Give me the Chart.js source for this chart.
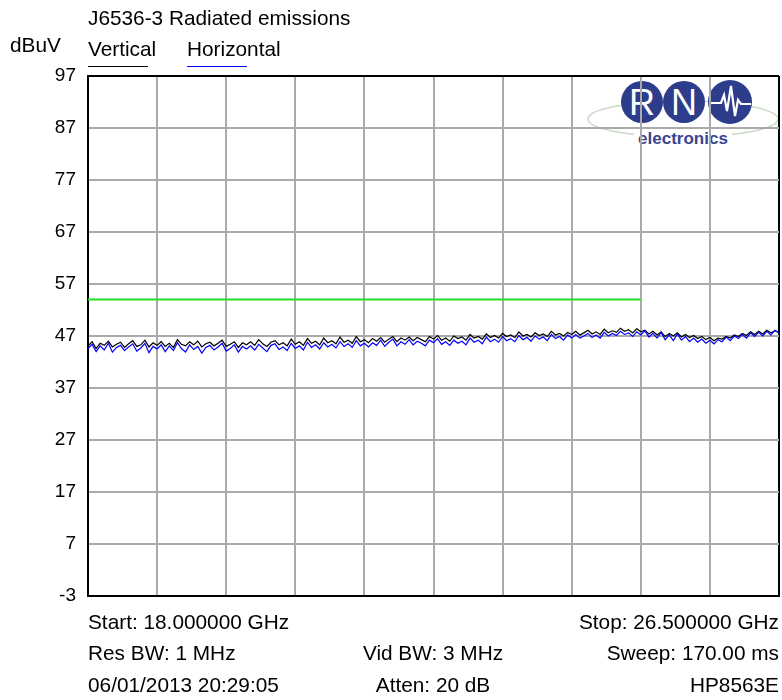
<!DOCTYPE html>
<html>
<head>
<meta charset="utf-8">
<script src="https://cdn.jsdelivr.net/npm/chart.js@4.4.1/dist/chart.umd.min.js"></script>
<style>
  html, body { margin: 0; padding: 0; background: #fff; }
  #wrap { position: relative; width: 782px; height: 700px; font-family: "Liberation Sans", Arial, sans-serif; color: #000; }
  #wrap canvas { position: absolute; left: 0; top: 0; z-index: 2; }
  #logo { position: absolute; left: 0; top: 0; z-index: 1; }
  .t { position: absolute; font-size: 20.8px; line-height: 20px; white-space: nowrap; z-index: 3; }
  .ul { position: absolute; height: 1px; z-index: 3; }
</style>
</head>
<body>
<div id="wrap">
  <svg id="logo" width="782" height="700">
    <ellipse cx="683" cy="119" rx="95" ry="18" fill="none" stroke="#c9d9c6" stroke-width="1.5"/>
    <circle cx="642" cy="102" r="21" fill="#2e3c8c"/>
    <circle cx="684" cy="102" r="21" fill="#2e3c8c"/>
    <circle cx="730" cy="102" r="22" fill="#2e3c8c"/>
    <text x="642" y="115" text-anchor="middle" font-family="Liberation Sans, Arial" font-size="36" fill="#fff">R</text>
    <text x="684" y="115" text-anchor="middle" font-family="Liberation Sans, Arial" font-size="36" fill="#fff">N</text>
    <polyline points="710,103 721,103 724,95 727,111 731,86 735,116 738,100 741,104 751,104" fill="none" stroke="#fff" stroke-width="2.2"/>
    <rect x="634" y="128" width="98" height="18" fill="#fff"/>
    <text x="683" y="144" text-anchor="middle" font-family="Liberation Sans, Arial" font-weight="bold" font-size="17" fill="#3a4590">electronics</text>
  </svg>
  <canvas id="emiChart" width="782" height="700"></canvas>

  <div class="t" style="left:88px; top:8px;">J6536-3 Radiated emissions</div>
  <div class="t" style="left:10px; top:35px;">dBuV</div>
  <div class="t" style="left:88px; top:39px;">Vertical</div>
  <div class="ul" style="left:88px; top:66px; width:60px; background:#000;"></div>
  <div class="t" style="left:187px; top:39px;">Horizontal</div>
  <div class="ul" style="left:187px; top:66px; width:60px; background:#0000ff;"></div>

  <div class="t" style="left:88px; top:612px;">Start: 18.000000 GHz</div>
  <div class="t" style="right:3px; top:612px;">Stop: 26.500000 GHz</div>
  <div class="t" style="left:88px; top:643px;">Res BW: 1 MHz</div>
  <div class="t" style="left:433px; top:643px; transform:translateX(-50%);">Vid BW: 3 MHz</div>
  <div class="t" style="right:3px; top:643px;">Sweep: 170.00 ms</div>
  <div class="t" style="left:88px; top:675px;">06/01/2013 20:29:05</div>
  <div class="t" style="left:433px; top:675px; transform:translateX(-50%);">Atten: 20 dB</div>
  <div class="t" style="right:3px; top:675px;">HP8563E</div>
</div>
<script>
// sweep settings (GHz)
const freqStart = 18.0;
const freqStop = 26.5;
const freqStep = 0.05;

// Vertical polarisation trace (dBuV)
const vertical = [
  45.1, 45.9, 44.6, 45.6, 45.2, 46.0, 44.9, 45.4, 45.8, 44.8,
  45.5, 46.1, 45.0, 45.3, 46.2, 44.9, 45.7, 45.2, 45.9, 45.0,
  45.6, 44.8, 46.3, 45.4, 45.1, 45.9, 45.3, 46.0, 44.9, 45.5,
  45.8, 45.1, 45.6, 46.2, 45.0, 45.4, 45.9, 44.8, 45.7, 45.3,
  45.9, 45.2, 46.3, 45.5, 45.0, 45.8, 46.1, 45.3, 45.7, 45.1,
  46.4, 45.4, 45.9, 45.2, 46.5, 45.6, 46.0, 45.3, 46.6, 45.7,
  46.1, 45.5, 46.8, 45.8, 46.2, 45.6, 46.9, 45.9, 46.3, 45.7,
  46.5, 46.0, 46.7, 45.8, 46.4, 46.9, 45.9, 46.6, 46.2, 46.8,
  46.1, 46.7, 46.3, 45.9, 46.9, 46.4, 47.1, 46.2, 46.6, 46.0,
  47.0, 46.5, 46.8, 46.2, 47.3, 46.6, 46.9, 46.4, 47.4, 46.7,
  47.1, 46.6, 47.5, 46.9, 47.2, 46.7, 47.8, 47.0, 47.3, 46.8,
  47.6, 47.1, 47.4, 46.9, 47.9, 47.2, 47.5, 47.0, 47.7, 47.3,
  47.9, 47.2, 47.6, 48.1, 47.4, 47.8, 47.3, 48.3, 47.6, 48.0,
  47.7, 48.5, 47.9, 48.2, 47.6, 48.4, 47.8, 48.1, 47.4, 47.9,
  47.2, 47.8, 46.9, 47.5, 47.0, 47.6, 46.8, 47.3, 46.7, 47.1,
  46.5, 46.9, 46.3, 46.7, 46.1, 46.6, 46.4, 46.9, 46.6, 47.2,
  46.9, 47.5, 47.1, 47.8, 47.3, 47.9, 47.4, 48.1, 47.6, 48.0,
  47.7
];

// Horizontal polarisation trace (dBuV)
const horizontal = [
  44.6, 45.4, 44.0, 45.1, 44.3, 45.6, 43.9, 44.8, 45.2, 44.2,
  44.9, 45.5, 44.1, 44.7, 45.6, 43.8, 45.0, 44.5, 45.3, 44.0,
  45.1, 44.2, 45.7, 44.6, 43.9, 45.3, 44.4, 45.0, 43.7, 44.8,
  45.2, 44.3, 44.9, 45.6, 44.1, 44.6, 45.3, 43.9, 45.0, 44.5,
  45.1, 44.3, 45.4, 44.7, 44.0, 45.2, 45.5, 44.4, 44.9, 44.2,
  45.6, 44.6, 45.1, 44.3, 45.8, 44.8, 45.3, 44.5, 45.7, 44.9,
  45.4, 44.7, 45.9, 45.0, 45.5, 44.8, 46.1, 45.1, 45.6, 44.9,
  45.7, 45.2, 46.2, 45.0, 45.8, 46.4, 45.1, 45.9, 45.4, 46.3,
  45.3, 46.0, 45.6, 45.1, 46.2, 45.7, 46.5, 45.4, 45.9, 45.2,
  46.2, 45.6, 46.0, 45.3, 46.6, 45.8, 46.2, 45.5, 46.8, 45.9,
  46.4, 45.8, 46.9, 46.1, 46.5, 45.9, 47.1, 46.3, 46.7, 46.0,
  47.0, 46.4, 46.8, 46.1, 47.3, 46.5, 46.9, 46.2, 47.2, 46.6,
  47.3, 46.6, 47.0, 47.5, 46.7, 47.2, 46.6, 47.7, 47.0, 47.5,
  47.1, 47.9, 47.3, 47.6, 46.9, 47.8, 47.2, 48.0, 46.8, 47.5,
  46.6, 47.7, 46.3, 47.2, 46.1, 47.4, 46.2, 46.9, 45.9, 46.6,
  45.8, 46.4, 45.6, 46.2, 45.5, 46.3, 45.9, 46.8, 46.1, 47.0,
  46.5, 47.3, 46.6, 47.6, 46.9, 47.7, 47.0, 47.9, 47.2, 48.1,
  47.6
];

// limit line
const limitLevel = 54;
const limitStop = 24.8;

// y axis
const yMin = -3;
const yMax = 97;
const yStep = 10;
const xDivisions = 10;

function toPoints(arr) {
  return arr.map((v, i) => ({ x: freqStart + i * freqStep, y: v }));
}

const gridGrey = '#aaaaaa';

const ctx = document.getElementById('emiChart').getContext('2d');
const emiChart = new Chart(ctx, {
  type: 'line',
  data: {
    datasets: [
      {
        label: 'Limit',
        data: [{ x: freqStart, y: limitLevel }, { x: limitStop, y: limitLevel }],
        borderColor: '#22dd22',
        borderWidth: 2,
        pointRadius: 0,
        order: 3
      },
      {
        label: 'Vertical',
        data: toPoints(vertical),
        borderColor: '#000000',
        borderWidth: 1.2,
        pointRadius: 0,
        tension: 0,
        order: 2
      },
      {
        label: 'Horizontal',
        data: toPoints(horizontal),
        borderColor: '#0000ff',
        borderWidth: 1.2,
        pointRadius: 0,
        tension: 0,
        order: 1
      }
    ]
  },
  options: {
    responsive: false,
    animation: false,
    layout: { padding: { left: 0, right: 3, top: 76, bottom: 104 } },
    plugins: {
      legend: { display: false },
      title: { display: false },
      tooltip: { enabled: false }
    },
    scales: {
      x: {
        type: 'linear',
        min: freqStart,
        max: freqStop,
        afterBuildTicks: (scale) => {
          const ticks = [];
          for (let i = 0; i <= xDivisions; i++) {
            ticks.push({ value: freqStart + i * (freqStop - freqStart) / xDivisions });
          }
          scale.ticks = ticks;
        },
        afterFit: (scale) => { scale.height = 0; },
        ticks: { display: false },
        grid: {
          drawTicks: false,
          color: (c) => (c.index === 0 || c.index === xDivisions) ? '#000' : gridGrey,
          lineWidth: 2
        },
        border: { display: true, color: '#000', width: 2 }
      },
      y: {
        min: yMin,
        max: yMax,
        afterFit: (scale) => { scale.width = 88; },
        ticks: {
          stepSize: yStep,
          color: '#000',
          padding: 12,
          font: { family: '"Liberation Sans", Arial, sans-serif', size: 19 }
        },
        grid: {
          drawTicks: false,
          color: (c) => (c.tick && (c.tick.value === yMin || c.tick.value === yMax)) ? '#000' : gridGrey,
          lineWidth: 2
        },
        border: { display: true, color: '#000', width: 2 }
      }
    }
  }
});
</script>
</body>
</html>
